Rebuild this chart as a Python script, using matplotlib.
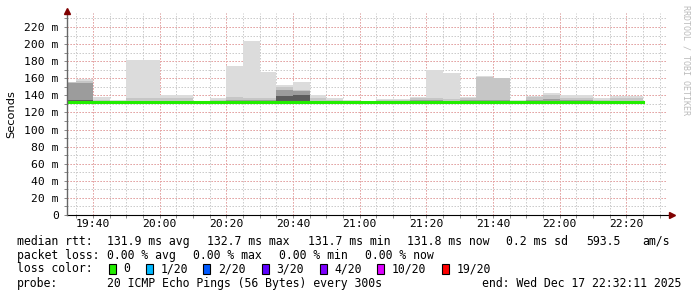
import numpy as np
import matplotlib
matplotlib.use("Agg")
import matplotlib.pyplot as plt

# 5 minute steps, start of each step (minutes after midnight), 19:30 .. 22:20
step_start = [19*60 + 30 + 5*i for i in range(35)]
step_len = 5

# smoke layers (ms): outer max, then inner bands getting darker
rtt_max = [156.0, 159.5, 138.5, 134.6, 181.4, 181.8, 140.4, 140.5, 133.6, 137.3,
           174.4, 203.6, 167.7, 152.0, 156.0, 140.4, 137.3, 134.6, 133.8, 135.7,
           135.7, 138.5, 169.7, 166.5, 138.5, 162.7, 160.7, 134.6, 139.3, 143.1,
           140.4, 140.4, 137.3, 139.3, 139.3]
rtt_q1 = [155.5, 157.0, 134.5, 133.5, 137.0, 137.0, 137.5, 137.5, 133.2, 134.5,
          138.5, 137.5, 137.0, 150.0, 146.0, 137.5, 134.5, 133.5, 133.0, 134.0,
          134.5, 137.0, 137.0, 136.0, 137.5, 161.5, 160.0, 133.5, 138.0, 140.0,
          137.5, 137.0, 135.0, 137.5, 137.5]
rtt_q2 = [155.0, 154.5, 133.0, 133.0, 133.5, 133.5, 133.5, 133.5, 132.8, 133.0,
          134.0, 134.5, 134.0, 146.0, 145.5, 133.5, 133.0, 132.8, 132.8, 133.0,
          133.0, 134.0, 134.0, 133.5, 134.0, 135.0, 134.5, 132.8, 134.0, 135.5,
          134.0, 134.0, 133.5, 133.5, 133.5]
rtt_q3 = [134.0, 134.0, 132.5, 132.5, 132.5, 132.5, 132.5, 132.5, 132.5, 132.5,
          132.5, 132.5, 132.5, 139.5, 140.0, 132.5, 132.5, 132.5, 132.5, 132.5,
          132.5, 132.8, 132.5, 132.5, 132.5, 132.5, 132.5, 132.5, 132.5, 132.8,
          132.5, 133.0, 132.5, 132.5, 132.5]
rtt_min = [131.5] * 35
rtt_median = [132.6, 132.4, 132.1, 131.9, 132.0, 132.1, 132.2, 132.0, 131.8, 131.9,
              132.2, 132.3, 132.1, 132.7, 132.5, 132.0, 131.9, 131.8, 131.7, 131.8,
              131.9, 132.0, 132.1, 132.0, 131.9, 132.2, 132.1, 131.8, 132.0, 132.1,
              132.0, 131.9, 131.8, 131.9, 131.8]

x_ticks = [19*60 + 40 + 20*i for i in range(9)]
x_labels = ["19:40", "20:00", "20:20", "20:40", "21:00", "21:20", "21:40", "22:00", "22:20"]
y_ticks = list(range(0, 221, 20))
y_labels = ["0"] + ["%d m" % v for v in y_ticks[1:]]

t0 = 19*60 + 32 + 11/60
t1 = 22*60 + 32 + 11/60

loss_names = ["0", "1/20", "2/20", "3/20", "4/20", "10/20", "19/20"]
loss_colors = ["#22ee00", "#00b8ff", "#0059ff", "#5e00ff", "#7e00ff", "#dd00ff", "#ff0000"]

mono = "DejaVu Sans Mono"
fig = plt.figure(figsize=(6.97, 2.97), dpi=100)
W, H = 697, 297
ax = fig.add_axes([67/W, (H-215)/H, 600/W, (215-13)/H])
ax.set_xlim(t0, t1)
ax.set_ylim(0, 236.4)

# grid
minor_x = np.arange(19*60 + 35, t1, 5)
minor_y = np.arange(10, 236, 10)
for v in minor_x:
    ax.axvline(v, color="#cccccc", lw=0.72, dashes=(1.5, 1.5), zorder=0)
for v in minor_y:
    ax.axhline(v, color="#cccccc", lw=0.72, dashes=(1.5, 1.5), zorder=0)
for v in x_ticks:
    ax.axvline(v, color="#e8a4a4", lw=0.72, dashes=(1.5, 1.5), zorder=0.5)
for v in y_ticks[1:]:
    ax.axhline(v, color="#e8a4a4", lw=0.72, dashes=(1.5, 1.5), zorder=0.5)

# smoke
layers = [(rtt_max, "#dcdcdc"), (rtt_q1, "#c6c6c6"), (rtt_q2, "#9c9c9c"), (rtt_q3, "#5c5c5c")]
for top, col in layers:
    h = np.array(top) - np.array(rtt_min)
    ax.bar(step_start, h, width=step_len, bottom=rtt_min, align="edge",
           color=col, linewidth=0, zorder=1)

# median line
xs = step_start + [step_start[-1] + step_len]
ys = rtt_median + [rtt_median[-1]]
ax.step(xs, ys, where="post", color=loss_colors[0], lw=2.2, zorder=3)

# axes
for s in ax.spines.values():
    s.set_visible(False)
ax.plot([0, 1.006], [0, 0], transform=ax.transAxes, color="black", lw=0.8, clip_on=False, zorder=4)
ax.plot([0, 0], [0, 1.0], transform=ax.transAxes, color="#666666", lw=1.0, clip_on=False, zorder=4)
ax.plot([1.008], [0], transform=ax.transAxes, marker=">", color="#800000", ms=4, clip_on=False, zorder=5)
ax.plot([0], [1.01], transform=ax.transAxes, marker="^", color="#800000", ms=4, clip_on=False, zorder=5)

ax.set_xticks(x_ticks)
ax.set_xticklabels(x_labels, fontfamily=mono, fontsize=8.2)
ax.set_xticks(minor_x, minor=True)
ax.set_yticks(y_ticks)
ax.set_yticklabels(y_labels, fontfamily=mono, fontsize=8.2)
ax.set_yticks(minor_y, minor=True)
ax.tick_params(axis="both", which="both", length=2, color="#888888", width=0.7)
ax.tick_params(axis="x", pad=1)
ax.tick_params(axis="y", pad=4)

fig.text(11/W, 1 - 114/H, "Seconds", rotation=90, ha="center", va="center", fontsize=8.2)
fig.text(686/W, 1 - 5/H, "RRDTOOL / TOBI OETIKER", rotation=270, ha="center", va="top",
         fontfamily=mono, fontsize=6, color="#bbbbbb")

# legend text
def put(x, y, s, ha="left"):
    fig.text(x/W, 1 - y/H, s, fontfamily=mono, fontsize=8.3, va="center", ha=ha)

row1 = [(16.7, "median rtt:"), (107.3, "131.9 ms avg"), (207.3, "132.7 ms max"),
        (307.7, "131.7 ms min"), (407.3, "131.8 ms now"), (505.7, "0.2 ms sd"),
        (586.7, "593.5"), (642.7, "am/s")]
row2 = [(16.7, "packet loss:"), (107.3, "0.00 % avg"), (193.3, "0.00 % max"),
        (279.3, "0.00 % min"), (365.0, "0.00 % now")]
for x, s in row1:
    put(x, 241.5, s)
for x, s in row2:
    put(x, 255.5, s)
put(16.7, 269, "loss color:")
box_x = [108.7, 145.7, 203.3, 261.7, 320.0, 377.3, 442.3]
for bx, name, col in zip(box_x, loss_names, loss_colors):
    fig.patches.append(plt.Rectangle((bx/W, 1 - 274/H), 7/W, 10/H, transform=fig.transFigure,
                                     facecolor=col, edgecolor="black", lw=0.8))
    put(bx + 14.5, 269, name)
put(16.7, 283.5, "probe:")
put(107.3, 283.5, "20 ICMP Echo Pings (56 Bytes) every 300s")
put(681.0, 283.5, "end: Wed Dec 17 22:32:11 2025", ha="right")

fig.savefig("out.png", dpi=100)
